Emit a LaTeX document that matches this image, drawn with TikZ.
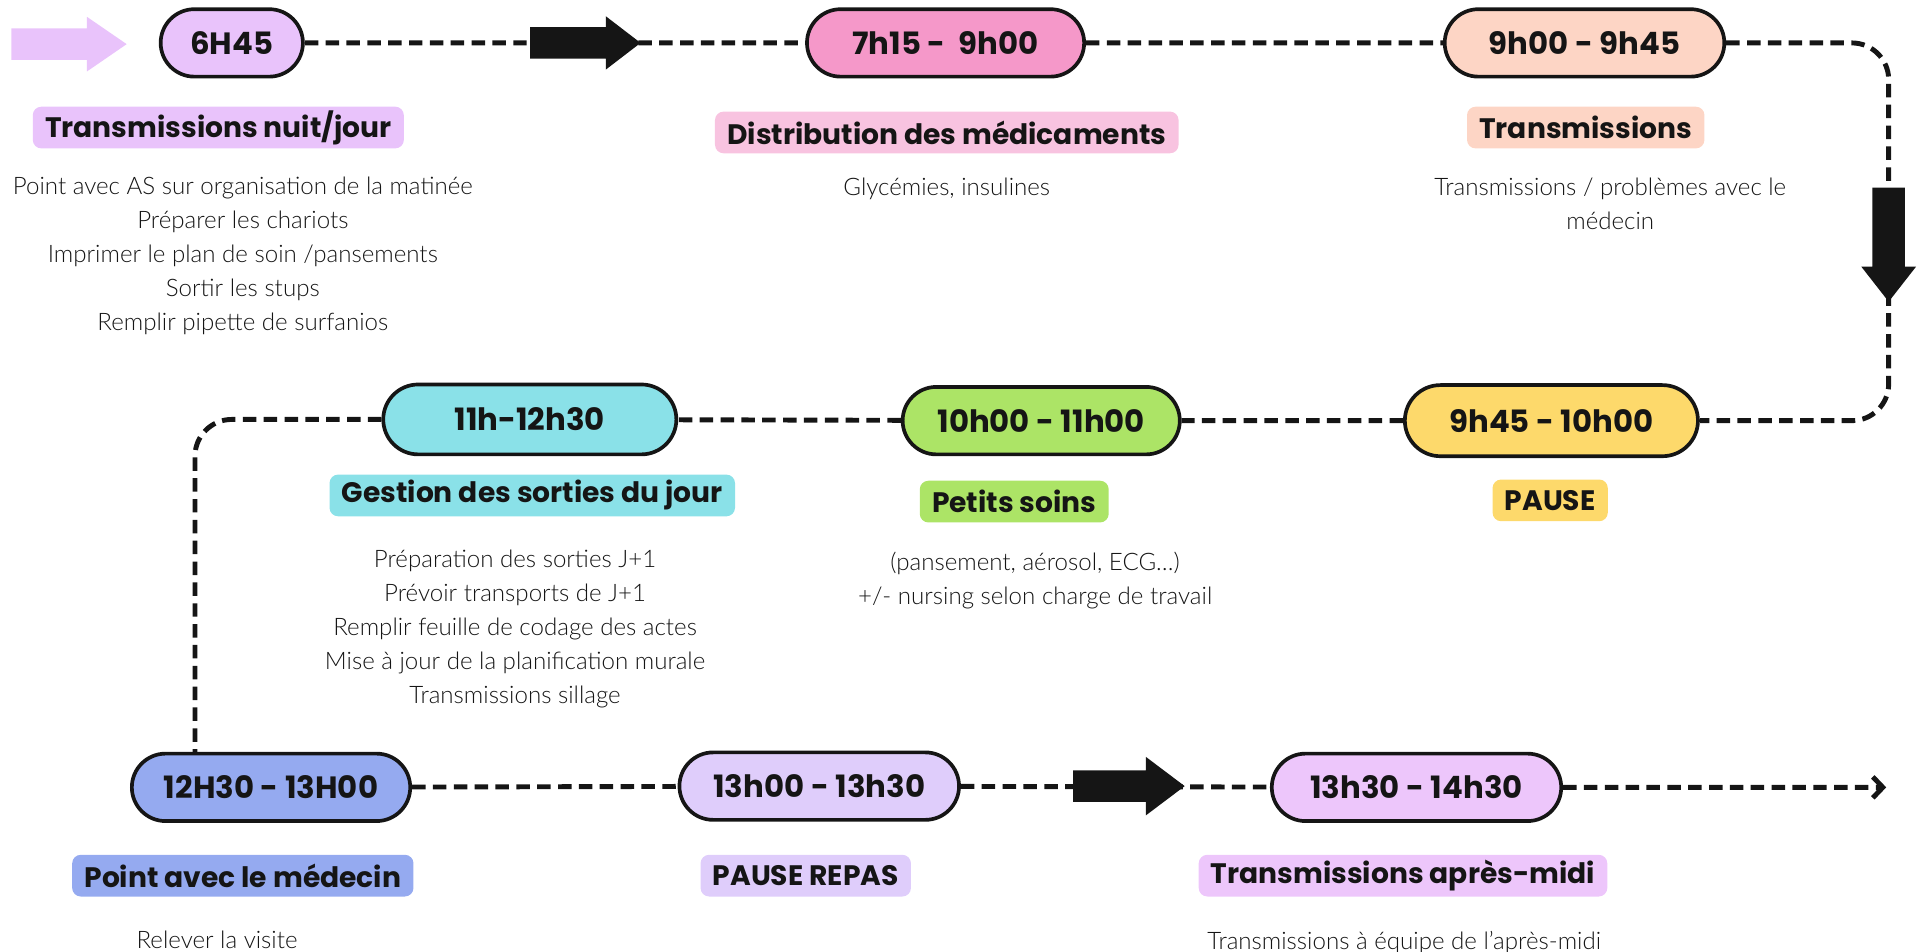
\documentclass[tikz,border=0pt]{standalone}
\usepackage{fontspec}
\usetikzlibrary{shapes.misc,shapes.arrows,arrows.meta}
\newfontfamily\headfont{Poppins}
\IfFontExistsTF{Lato Light}{\newfontfamily\bodyfont{Lato Light}}{\newfontfamily\bodyfont{Lato}}
\newlength\unitpx
\setlength\unitpx{0.245mm}
\definecolor{ink}{HTML}{151515}
\definecolor{nuit}{HTML}{E9C3FB}
\definecolor{medoc}{HTML}{F598C9}
\definecolor{medoclight}{HTML}{F8C3E0}
\definecolor{transm}{HTML}{FDD5C5}
\definecolor{pause}{HTML}{FDD96B}
\definecolor{soins}{HTML}{ACE466}
\definecolor{sorties}{HTML}{8AE1E8}
\definecolor{medecin}{HTML}{95AAF0}
\definecolor{repas}{HTML}{DFCDFB}
\definecolor{aprem}{HTML}{EDC6FB}
\begin{document}
\begin{tikzpicture}[x=0.245mm,y=-0.245mm,
	slot/.style={rounded rectangle, draw=ink, line width=3\unitpx, minimum height=55\unitpx, inner sep=0pt, text=ink, font=\headfont\bfseries\fontsize{17.5}{20}\selectfont},
	tag/.style={rounded corners=7\unitpx, minimum height=34\unitpx, inner xsep=10\unitpx, inner ysep=0pt, text=ink, font=\headfont\bfseries\fontsize{16}{19}\selectfont},
	note/.style={align=center, anchor=north, inner sep=0pt, text=ink, font=\bodyfont\fontsize{13.7}{19.3}\selectfont},
	flow/.style={draw=ink, line width=4\unitpx, dash pattern=on 11\unitpx off 6\unitpx},
	bigarrow/.style={single arrow, fill=ink, inner xsep=0pt, inner ysep=12.5\unitpx, minimum height=90\unitpx, minimum width=43\unitpx, single arrow head extend=9\unitpx, single arrow tip angle=75}]
	\useasboundingbox (0,0) rectangle (1568,776);
	% time slots
	\node[slot, fill=nuit, minimum width=116\unitpx] (t1) at (189,35) {6H45};
	\node[slot, fill=medoc, minimum width=226\unitpx] (t2) at (771,35) {7h15 -\ \ 9h00};
	\node[slot, fill=transm, minimum width=228\unitpx] (t3) at (1292,35) {9h00 - 9h45};
	\node[slot, fill=pause, minimum width=239\unitpx, minimum height=58\unitpx] (t4) at (1265,343) {9h45 - 10h00};
	\node[slot, fill=soins, minimum width=226\unitpx] (t5) at (849,343) {10h00 - 11h00};
	\node[slot, fill=sorties, minimum width=239\unitpx, minimum height=57\unitpx] (t6) at (432,342) {11h-12h30};
	\node[slot, fill=medecin, minimum width=227\unitpx] (t7) at (221,642) {12H30 - 13H00};
	\node[slot, fill=repas, minimum width=228\unitpx] (t8) at (668,641) {13h00 - 13h30};
	\node[slot, fill=aprem, minimum width=236\unitpx] (t9) at (1155,642) {13h30 - 14h30};
	% turning points
	\coordinate (ne) at (1540,35);
	\coordinate (se) at (1540,343);
	\coordinate (sw) at (159,342);
	\coordinate (fin) at (1538,642);
	% dashed path
	\draw[flow] (t1) -- (t2);
	\draw[flow] (t2) -- (t3);
	\draw[flow, rounded corners=30\unitpx] (t3.east) -- (ne) -- (se) -- (t4.east);
	\draw[flow] (t4) -- (t5);
	\draw[flow] (t5) -- (t6);
	\draw[flow, rounded corners=30\unitpx] (t6.west) -- (sw) -- (t7.north -| sw);
	\draw[flow] (t7) -- (t8);
	\draw[flow] (t8) -- (t9);
	\draw[flow, -{Straight Barb[length=2mm, width=4.2mm]}] (t9) -- (fin);
	% block arrows
	\node[bigarrow, fill=nuit, minimum height=94\unitpx, minimum width=44\unitpx, single arrow head extend=9.5\unitpx, single arrow tip angle=69] (a0) at (47,36) {};
	\node[bigarrow] (a1) at (469,35) {};
	\node[bigarrow, rotate=-90, inner ysep=13\unitpx, minimum height=93\unitpx, minimum width=44\unitpx, single arrow head extend=9\unitpx, single arrow tip angle=76] (a2) at (1540,191) {};
	\node[bigarrow, minimum height=91\unitpx, minimum width=47\unitpx, single arrow head extend=11\unitpx, single arrow tip angle=74] (a3) at (912,641) {};
	% labels
	\node[tag, fill=nuit] (l1) at (178,104) {Transmissions nuit/jour};
	\node[tag, fill=medoclight] (l2) at (772,108) {Distribution des médicaments};
	\node[tag, fill=transm] (l3) at (1293,104) {Transmissions};
	\node[tag, fill=pause] (l4) at (1264,408) {PAUSE};
	\node[tag, fill=soins] (l5) at (827,409) {Petits soins};
	\node[tag, fill=sorties] (l6) at (434,404) {Gestion des sorties du jour};
	\node[tag, fill=medecin] (l7) at (198,714) {Point avec le médecin};
	\node[tag, fill=repas] (l8) at (657,714) {PAUSE REPAS};
	\node[tag, fill=aprem] (l9) at (1144,714) {Transmissions après-midi};
	% details
	\node[note] (n1) at (198,144) {Point avec AS sur organisation de la matinée\\Préparer les chariots\\Imprimer le plan de soin /pansements\\Sortir les stups\\Remplir pipette de surfanios};
	\node[note] (n2) at (772,145) {Glycémies, insulines};
	\node[note] (n3) at (1313,145) {Transmissions / problèmes avec le\\médecin};
	\node[note] (n5) at (844,450) {(pansement, aérosol, ECG…)\\+/- nursing selon charge de travail};
	\node[note] (n6) at (420,448) {Préparation des sorties J+1\\Prévoir transports de J+1\\Remplir feuille de codage des actes\\Mise à jour de la planification murale\\Transmissions sillage};
	\node[note] (n7) at (177,759) {Relever la visite};
	\node[note] (n9) at (1145,759) {Transmissions à équipe de l’après-midi};
\end{tikzpicture}
\end{document}
